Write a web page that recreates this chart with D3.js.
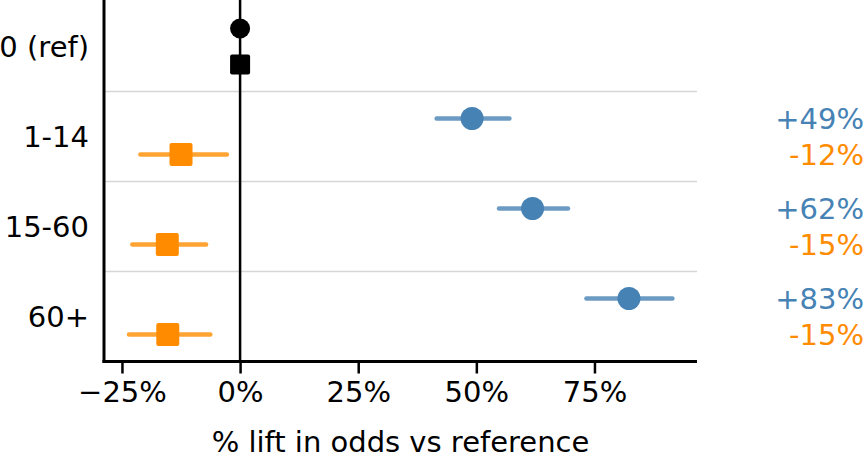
<!DOCTYPE html>
<html>
<head>
<meta charset="utf-8">
<script src="https://cdn.jsdelivr.net/npm/d3@7"></script>
<style>
  body { margin: 0; background: #fff; }
  text { font-family: "DejaVu Sans", sans-serif; }
</style>
</head>
<body>
<svg width="865" height="459"></svg>
<script>
var categories = ["0 (ref)", "1-14", "15-60", "60+"];
var groups = ["1-14", "15-60", "60+"];

// % lift, blue (circle) series
var blueLift = [49.1, 61.9, 82.3];
var blueLow = [41.6, 54.8, 73.3];
var blueHigh = [57.0, 69.4, 91.5];
var blueText = ["+49%", "+62%", "+83%"];

// % lift, orange (square) series
var orangeLift = [-12.5, -15.4, -15.3];
var orangeLow = [-21.1, -22.8, -23.5];
var orangeHigh = [-2.8, -7.2, -6.3];
var orangeText = ["-12%", "-15%", "-15%"];

var xTicks = [-25, 0, 25, 50, 75];

var svg = d3.select("svg");
var fs = 29;
var blue = "#4682b4", orange = "#ff8c00";

var x = d3.scaleLinear().domain([-28.8, 96.7]).range([104, 697]);
var y = d3.scaleBand().domain(categories).range([1.5, 361.5]);
var off = 18;
function cy(c) { return y(c) + y.bandwidth() / 2; }

// gridlines between groups
svg.append("g").selectAll("line")
    .data(categories.slice(1))
    .enter().append("line")
      .attr("x1", x.range()[0]).attr("x2", x.range()[1])
      .attr("y1", function(d) { return y(d); })
      .attr("y2", function(d) { return y(d); })
      .attr("stroke", "#d6d6d6")
      .attr("stroke-width", 1.5);

// zero line
svg.append("line")
    .attr("x1", x(0)).attr("x2", x(0))
    .attr("y1", 0).attr("y2", y.range()[1])
    .attr("stroke", "#000").attr("stroke-width", 2.5);

// x axis
var xAxis = d3.axisBottom(x)
    .tickValues(xTicks)
    .tickSize(12)
    .tickFormat(function(d) { return (d < 0 ? "\u2212" + (-d) : d) + "%"; });

var gx = svg.append("g")
    .attr("transform", "translate(0," + y.range()[1] + ")")
    .call(xAxis);
gx.select(".domain").remove();
gx.selectAll(".tick line").attr("stroke", "#000").attr("stroke-width", 2.5);
gx.selectAll(".tick text")
    .attr("fill", "#000")
    .attr("y", 40)
    .attr("dy", null)
    .style("font-family", "DejaVu Sans")
    .style("font-size", fs + "px");

// spines
svg.append("line")
    .attr("x1", x.range()[0]).attr("x2", x.range()[0])
    .attr("y1", 0).attr("y2", y.range()[1] + 1.5)
    .attr("stroke", "#000").attr("stroke-width", 3);
svg.append("line")
    .attr("x1", x.range()[0] - 1.5).attr("x2", x.range()[1])
    .attr("y1", y.range()[1]).attr("y2", y.range()[1])
    .attr("stroke", "#000").attr("stroke-width", 3);

// y labels
svg.append("g").selectAll("text")
    .data(categories)
    .enter().append("text")
      .attr("x", 89)
      .attr("y", function(d) { return cy(d); })
      .attr("dy", "0.35em")
      .attr("text-anchor", "end")
      .style("font-size", fs + "px")
      .text(function(d) { return d; });

svg.append("text")
    .attr("x", (x.range()[0] + x.range()[1]) / 2)
    .attr("y", 452)
    .attr("text-anchor", "middle")
    .style("font-size", fs + "px")
    .text("% lift in odds vs reference");

// reference markers
svg.append("circle")
    .attr("cx", x(0)).attr("cy", cy(categories[0]) - off)
    .attr("r", 10).attr("fill", "#000");
svg.append("rect")
    .attr("x", x(0) - 10).attr("y", cy(categories[0]) + off - 10)
    .attr("width", 20).attr("height", 20).attr("rx", 2)
    .attr("fill", "#000");

// blue series
var bg = svg.append("g");
bg.selectAll("line")
    .data(groups)
    .enter().append("line")
      .attr("x1", function(d, i) { return x(blueLow[i]); })
      .attr("x2", function(d, i) { return x(blueHigh[i]); })
      .attr("y1", function(d) { return cy(d) - off; })
      .attr("y2", function(d) { return cy(d) - off; })
      .attr("stroke", blue).attr("stroke-opacity", 0.8)
      .attr("stroke-width", 4.5).attr("stroke-linecap", "round");
bg.selectAll("circle")
    .data(groups)
    .enter().append("circle")
      .attr("cx", function(d, i) { return x(blueLift[i]); })
      .attr("cy", function(d) { return cy(d) - off; })
      .attr("r", 11.5)
      .attr("fill", blue);

// orange series
var og = svg.append("g");
og.selectAll("line")
    .data(groups)
    .enter().append("line")
      .attr("x1", function(d, i) { return x(orangeLow[i]); })
      .attr("x2", function(d, i) { return x(orangeHigh[i]); })
      .attr("y1", function(d) { return cy(d) + off; })
      .attr("y2", function(d) { return cy(d) + off; })
      .attr("stroke", orange).attr("stroke-opacity", 0.8)
      .attr("stroke-width", 4.5).attr("stroke-linecap", "round");
og.selectAll("rect")
    .data(groups)
    .enter().append("rect")
      .attr("x", function(d, i) { return x(orangeLift[i]) - 11.5; })
      .attr("y", function(d) { return cy(d) + off - 11.5; })
      .attr("width", 23).attr("height", 23).attr("rx", 2)
      .attr("fill", orange);

// right-side labels
var lg = svg.append("g");
lg.selectAll(".bl")
    .data(groups)
    .enter().append("text")
      .attr("class", "bl")
      .attr("x", 864)
      .attr("y", function(d) { return cy(d) - off; })
      .attr("dy", "0.35em")
      .attr("text-anchor", "end")
      .attr("fill", blue)
      .style("font-size", fs + "px")
      .text(function(d, i) { return blueText[i]; });
lg.selectAll(".ol")
    .data(groups)
    .enter().append("text")
      .attr("class", "ol")
      .attr("x", 864)
      .attr("y", function(d) { return cy(d) + off; })
      .attr("dy", "0.35em")
      .attr("text-anchor", "end")
      .attr("fill", orange)
      .style("font-size", fs + "px")
      .text(function(d, i) { return orangeText[i]; });
</script>
</body>
</html>
